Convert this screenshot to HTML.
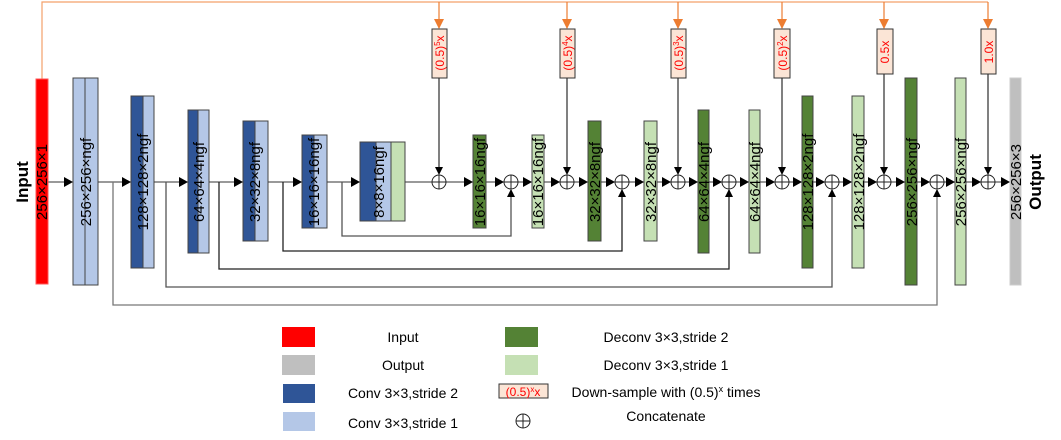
<!DOCTYPE html>
<html><head><meta charset="utf-8"><style>
html,body{margin:0;padding:0;background:#fff;}
svg{display:block;font-family:"Liberation Sans","DejaVu Sans",sans-serif;}
</style></head><body>
<svg width="1061" height="440" viewBox="0 0 1061 440" xmlns="http://www.w3.org/2000/svg">
<defs>
<marker id="a" markerWidth="8" markerHeight="8" refX="7" refY="4" orient="auto" markerUnits="userSpaceOnUse"><path d="M0,0 L8,4 L0,8 z" fill="#000"/></marker>
<marker id="o" markerWidth="10" markerHeight="10" refX="9" refY="5" orient="auto" markerUnits="userSpaceOnUse"><path d="M0,0 L10,5 L0,10 z" fill="#ED7D31"/></marker>
</defs>
<polyline points="42,79 42,2 988,2" fill="none" stroke="#F4A06A" stroke-width="1.2"/>
<g stroke="#ED7D31" stroke-width="1.2">
<line x1="439" y1="2" x2="439" y2="28" marker-end="url(#o)"/>
<line x1="567" y1="2" x2="567" y2="28" marker-end="url(#o)"/>
<line x1="678" y1="2" x2="678" y2="28" marker-end="url(#o)"/>
<line x1="782" y1="2" x2="782" y2="28" marker-end="url(#o)"/>
<line x1="884" y1="2" x2="884" y2="28" marker-end="url(#o)"/>
<line x1="988" y1="2" x2="988" y2="28" marker-end="url(#o)"/>
</g>
<g stroke="#000" stroke-width="1">
<line x1="439" y1="78" x2="439" y2="174" marker-end="url(#a)"/>
<line x1="567" y1="78" x2="567" y2="174" marker-end="url(#a)"/>
<line x1="678" y1="78" x2="678" y2="174" marker-end="url(#a)"/>
<line x1="782" y1="78" x2="782" y2="174" marker-end="url(#a)"/>
<line x1="884" y1="74" x2="884" y2="174" marker-end="url(#a)"/>
<line x1="988" y1="74" x2="988" y2="174" marker-end="url(#a)"/>
</g>
<line x1="48" y1="182" x2="1010" y2="182" stroke="#333" stroke-width="1"/>
<g fill="#000">
<path d="M64,177 L73,182 L64,187z"/><path d="M122,177 L131,182 L122,187z"/><path d="M179,177 L188,182 L179,187z"/><path d="M234,177 L243,182 L234,187z"/><path d="M293,177 L302,182 L293,187z"/><path d="M351,177 L360,182 L351,187z"/>
<path d="M464,177 L473,182 L464,187z"/><path d="M495,177 L504,182 L495,187z"/><path d="M523,177 L532,182 L523,187z"/><path d="M551,177 L560,182 L551,187z"/><path d="M579,177 L588,182 L579,187z"/><path d="M606,177 L615,182 L606,187z"/><path d="M635,177 L644,182 L635,187z"/><path d="M662,177 L671,182 L662,187z"/><path d="M689,177 L698,182 L689,187z"/><path d="M713,177 L722,182 L713,187z"/><path d="M740,177 L749,182 L740,187z"/><path d="M766,177 L775,182 L766,187z"/><path d="M793,177 L802,182 L793,187z"/><path d="M816,177 L825,182 L816,187z"/><path d="M843,177 L852,182 L843,187z"/><path d="M868,177 L877,182 L868,187z"/><path d="M896,177 L905,182 L896,187z"/><path d="M921,177 L930,182 L921,187z"/><path d="M946,177 L955,182 L946,187z"/><path d="M972,177 L981,182 L972,187z"/><path d="M1001,177 L1010,182 L1001,187z"/>
</g>
<g fill="none" stroke-width="1.3">
<polyline points="113,182 113,305 937,305 937,190" stroke="#777" marker-end="url(#a)"/>
<polyline points="166,182 166,287 832,287 832,190" stroke="#555" marker-end="url(#a)"/>
<polyline points="219,182 219,269 729,269 729,190" stroke="#222" marker-end="url(#a)"/>
<polyline points="283,182 283,251 622,251 622,190" stroke="#222" marker-end="url(#a)"/>
<polyline points="342,182 342,236 511,236 511,190" stroke="#555" marker-end="url(#a)"/>
</g>
<g fill="#fff" stroke="#222" stroke-width="1">
<circle cx="439" cy="182" r="7"/><circle cx="511" cy="182" r="7"/><circle cx="567" cy="182" r="7"/><circle cx="622" cy="182" r="7"/><circle cx="678" cy="182" r="7"/><circle cx="729" cy="182" r="7"/><circle cx="782" cy="182" r="7"/><circle cx="832" cy="182" r="7"/><circle cx="884" cy="182" r="7"/><circle cx="937" cy="182" r="7"/><circle cx="988" cy="182" r="7"/>
</g>
<g stroke="#222" stroke-width="1">
<path d="M432,182h14M439,175v14M504,182h14M511,175v14M560,182h14M567,175v14M615,182h14M622,175v14M671,182h14M678,175v14M722,182h14M729,175v14M775,182h14M782,175v14M825,182h14M832,175v14M877,182h14M884,175v14M930,182h14M937,175v14M981,182h14M988,175v14"/>
</g>
<g stroke="#444" stroke-width="1">
<rect x="36" y="79" width="12" height="205" fill="#FF0000" stroke="#f55"/>
<rect x="73" y="78" width="12" height="207" fill="#B4C7E7"/><rect x="85" y="78" width="13" height="207" fill="#B4C7E7"/>
<rect x="131" y="96" width="12" height="172" fill="#2F5597"/><rect x="143" y="96" width="11" height="172" fill="#B4C7E7"/>
<rect x="188" y="110" width="10" height="143" fill="#2F5597"/><rect x="198" y="110" width="11" height="143" fill="#B4C7E7"/>
<rect x="243" y="121" width="12" height="120" fill="#2F5597"/><rect x="255" y="121" width="13" height="120" fill="#B4C7E7"/>
<rect x="302" y="135" width="12" height="93" fill="#2F5597"/><rect x="314" y="135" width="13" height="93" fill="#B4C7E7"/>
<rect x="360" y="142" width="16" height="79" fill="#2F5597"/><rect x="376" y="142" width="15" height="79" fill="#B4C7E7"/><rect x="391" y="142" width="14" height="79" fill="#C5E0B4"/>
<rect x="473" y="135" width="13" height="93" fill="#548235"/>
<rect x="532" y="135" width="12" height="93" fill="#C5E0B4"/>
<rect x="588" y="121" width="13" height="120" fill="#548235"/>
<rect x="644" y="121" width="13" height="120" fill="#C5E0B4"/>
<rect x="698" y="110" width="11" height="143" fill="#548235"/>
<rect x="749" y="110" width="11" height="143" fill="#C5E0B4"/>
<rect x="802" y="96" width="11" height="172" fill="#548235"/>
<rect x="852" y="96" width="12" height="172" fill="#C5E0B4"/>
<rect x="905" y="78" width="12" height="207" fill="#548235"/>
<rect x="955" y="78" width="11" height="207" fill="#C5E0B4"/>
<rect x="1010" y="78" width="11" height="207" fill="#BFBFBF" stroke="#ccc"/>
</g>
<g fill="#FBE5D6" stroke="#333" stroke-width="1">
<rect x="432" y="29" width="15" height="49"/><rect x="560" y="29" width="15" height="49"/><rect x="671" y="29" width="15" height="49"/><rect x="774" y="29" width="16" height="49"/><rect x="877" y="29" width="16" height="45"/><rect x="981" y="29" width="15" height="45"/>
</g>
<g fill="#FF0000" font-size="12" text-anchor="middle">
<text transform="translate(444,53) rotate(-90)">(0.5)<tspan dy="-4" font-size="8">5</tspan><tspan dy="4">x</tspan></text>
<text transform="translate(572,53) rotate(-90)">(0.5)<tspan dy="-4" font-size="8">4</tspan><tspan dy="4">x</tspan></text>
<text transform="translate(683,53) rotate(-90)">(0.5)<tspan dy="-4" font-size="8">3</tspan><tspan dy="4">x</tspan></text>
<text transform="translate(787,53) rotate(-90)">(0.5)<tspan dy="-4" font-size="8">2</tspan><tspan dy="4">x</tspan></text>
<text transform="translate(889,52) rotate(-90)">0.5x</text>
<text transform="translate(993,52) rotate(-90)">1.0x</text>
</g>
<g fill="#000" font-size="15" text-anchor="middle">
<text transform="translate(47,182) rotate(-90)">256×256×1</text>
<text transform="translate(91,182) rotate(-90)">256×256×ngf</text>
<text transform="translate(148,182) rotate(-90)">128×128×2ngf</text>
<text transform="translate(204,182) rotate(-90)">64×64×4ngf</text>
<text transform="translate(260,182) rotate(-90)">32×32×8ngf</text>
<text transform="translate(319,182) rotate(-90)">16×16×16ngf</text>
<text transform="translate(384,182) rotate(-90)">8×8×16ngf</text>
<text transform="translate(485,182) rotate(-90)">16×16×16ngf</text>
<text transform="translate(543,182) rotate(-90)">16×16×16ngf</text>
<text transform="translate(600,182) rotate(-90)">32×32×8ngf</text>
<text transform="translate(656,182) rotate(-90)">32×32×8ngf</text>
<text transform="translate(709,182) rotate(-90)">64×64×4ngf</text>
<text transform="translate(760,182) rotate(-90)">64×64×4ngf</text>
<text transform="translate(813,182) rotate(-90)">128×128×2ngf</text>
<text transform="translate(864,182) rotate(-90)">128×128×2ngf</text>
<text transform="translate(917,182) rotate(-90)">256×256×ngf</text>
<text transform="translate(966,182) rotate(-90)">256×256×ngf</text>
<text transform="translate(1021,182) rotate(-90)">256×256×3</text>
</g>
<g font-size="17" font-weight="bold" text-anchor="middle">
<text transform="translate(28,182) rotate(-90)">Input</text>
<text transform="translate(1041,182) rotate(-90)">Output</text>
</g>
<rect x="282" y="327" width="33" height="20" fill="#FF0000"/>
<rect x="282" y="355" width="33" height="20" fill="#BFBFBF"/>
<rect x="283" y="384" width="32" height="19" fill="#2F5597"/>
<rect x="283" y="412" width="32" height="19" fill="#B4C7E7"/>
<rect x="505" y="327" width="33" height="20" fill="#548235"/>
<rect x="505" y="355" width="33" height="20" fill="#C5E0B4"/>
<rect x="499" y="384" width="49" height="14" fill="#FBE5D6" stroke="#333"/>
<text x="523" y="396" font-size="12" fill="#FF0000" text-anchor="middle">(0.5)<tspan dy="-4" font-size="8">x</tspan><tspan dy="4">x</tspan></text>
<circle cx="523" cy="421" r="7" fill="none" stroke="#222"/>
<path d="M516,421h14M523,414v14" stroke="#222"/>
<g font-size="14" fill="#000" text-anchor="middle">
<text x="403" y="342">Input</text>
<text x="403" y="370">Output</text>
<text x="403" y="398">Conv 3×3,stride 2</text>
<text x="403" y="428">Conv 3×3,stride 1</text>
<text x="666" y="342">Deconv 3×3,stride 2</text>
<text x="666" y="370">Deconv 3×3,stride 1</text>
<text x="666" y="397">Down-sample with (0.5)<tspan dy="-5" font-size="9">x</tspan><tspan dy="5"> times</tspan></text>
<text x="666" y="421">Concatenate</text>
</g>
</svg>
</body></html>
